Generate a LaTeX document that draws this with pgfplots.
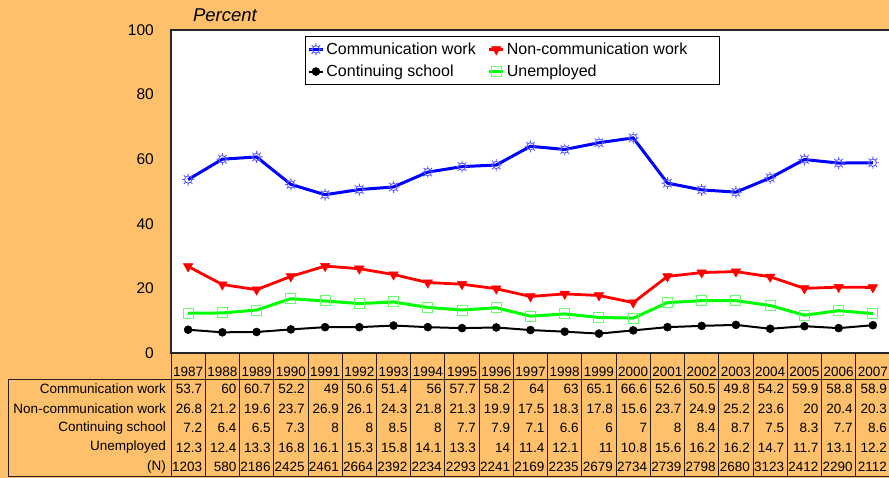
\documentclass[border=0pt]{standalone}
\usepackage{fontspec}
\setmainfont{Liberation Sans}
\usepackage{pgfplots}
\pgfplotsset{compat=1.18}
\usepackage{pgfplotstable}
\definecolor{bg}{RGB}{254,192,106}
\definecolor{sunblue}{RGB}{90,90,255}
\definecolor{lgreen}{RGB}{100,255,100}
\definecolor{grid}{RGB}{40,30,20}

\pgfdeclareplotmark{sun}{%
  \pgfpathcircle{\pgfpointorigin}{0.6\pgfplotmarksize}%
  \pgfpathmoveto{\pgfpointpolar{0}{0.6\pgfplotmarksize}}\pgfpathlineto{\pgfpointpolar{0}{\pgfplotmarksize}}%
  \pgfpathmoveto{\pgfpointpolar{45}{0.6\pgfplotmarksize}}\pgfpathlineto{\pgfpointpolar{45}{\pgfplotmarksize}}%
  \pgfpathmoveto{\pgfpointpolar{90}{0.6\pgfplotmarksize}}\pgfpathlineto{\pgfpointpolar{90}{\pgfplotmarksize}}%
  \pgfpathmoveto{\pgfpointpolar{135}{0.6\pgfplotmarksize}}\pgfpathlineto{\pgfpointpolar{135}{\pgfplotmarksize}}%
  \pgfpathmoveto{\pgfpointpolar{180}{0.6\pgfplotmarksize}}\pgfpathlineto{\pgfpointpolar{180}{\pgfplotmarksize}}%
  \pgfpathmoveto{\pgfpointpolar{225}{0.6\pgfplotmarksize}}\pgfpathlineto{\pgfpointpolar{225}{\pgfplotmarksize}}%
  \pgfpathmoveto{\pgfpointpolar{270}{0.6\pgfplotmarksize}}\pgfpathlineto{\pgfpointpolar{270}{\pgfplotmarksize}}%
  \pgfpathmoveto{\pgfpointpolar{315}{0.6\pgfplotmarksize}}\pgfpathlineto{\pgfpointpolar{315}{\pgfplotmarksize}}%
  \pgfusepathqstroke}

\pgfplotstableread{
year comm noncomm school unemp N
1987 53.7 26.8 7.2 12.3 1203
1988 60 21.2 6.4 12.4 580
1989 60.7 19.6 6.5 13.3 2186
1990 52.2 23.7 7.3 16.8 2425
1991 49 26.9 8 16.1 2461
1992 50.6 26.1 8 15.3 2664
1993 51.4 24.3 8.5 15.8 2392
1994 56 21.8 8 14.1 2234
1995 57.7 21.3 7.7 13.3 2293
1996 58.2 19.9 7.9 14 2241
1997 64 17.5 7.1 11.4 2169
1998 63 18.3 6.6 12.1 2235
1999 65.1 17.8 6 11 2679
2000 66.6 15.6 7 10.8 2734
2001 52.6 23.7 8 15.6 2739
2002 50.5 24.9 8.4 16.2 2798
2003 49.8 25.2 8.7 16.2 2680
2004 54.2 23.6 7.5 14.7 3123
2005 59.9 20 8.3 11.7 2412
2006 58.8 20.4 7.7 13.1 2290
2007 58.9 20.3 8.6 12.2 2112
}\data

\newcommand\tfont{\fontsize{13.5}{16}\selectfont}
\newcommand\cell[3]{\pgfplotstablegetelem{#1}{#2}\of\data
  \node[anchor=east,inner sep=0pt,font=\tfont] at ({171+34.238*(#1+1)-3},#3) {\pgfplotsretval};}

\begin{document}
\begin{tikzpicture}[x=1pt,y=1pt]
\useasboundingbox (0,0) rectangle (889,478);
\fill[bg] (0,0) rectangle (889,478);
\begin{axis}[
  at={(171pt,125pt)}, anchor=south west,
  scale only axis, width=719pt, height=323pt,
  xmin=-0.5, xmax=20.5, ymin=0, ymax=100,
  ytick={0,20,...,100},
  xtick={0,...,20},
  xticklabels from table={\data}{year},
  major tick length=0pt,
  axis background/.style={fill=white},
  axis line style={line width=1.8pt, black!85},
  yticklabel style={font=\fontsize{15.5}{18}\selectfont, inner sep=0pt, anchor=east, xshift=-17pt},
  xticklabel style={font=\tfont, inner sep=0pt, anchor=center, yshift=-19pt},
  /pgf/number format/assume math mode=true,
  legend columns=2,
  legend cell align=left,
  legend style={at={(0.1864,0.9814)}, anchor=north west, draw=black, line width=0.8pt,
    font=\fontsize{16}{19}\selectfont, inner ysep=4.5pt, inner xsep=2pt, row sep=5pt,
    /tikz/every even column/.append style={column sep=10pt}},
  legend image code/.code={\draw[mark repeat=2,mark phase=2] plot coordinates {(0pt,0pt)(7pt,0pt)(14pt,0pt)};},
  clip=false,
]
\addplot[color=blue, line width=3pt, mark=sun, mark size=6pt, mark options={draw=sunblue, line width=0.9pt, fill=none}]
  table[x expr=\coordindex, y=comm] {\data};
\addlegendentry{Communication work}
\addplot[color=red, line width=2.8pt, mark=triangle*, mark size=5.5pt, mark options={rotate=180, line width=0.5pt, fill=red}]
  table[x expr=\coordindex, y=noncomm] {\data};
\addlegendentry{Non-communication work\hspace*{28pt}}
\addplot[color=black, line width=2pt, mark=*, mark size=4pt, mark options={line width=0.5pt, fill=black}]
  table[x expr=\coordindex, y=school] {\data};
\addlegendentry{Continuing school}
\addplot[color=green, line width=3pt, mark=square, mark size=5pt, mark options={draw=lgreen, line width=1pt, fill=none}]
  table[x expr=\coordindex, y=unemp] {\data};
\addlegendentry{Unemployed}
\end{axis}
\node[font=\fontsize{18.5}{22}\selectfont\itshape] at (225,463) {Percent};
% table grid
\draw[grid, line width=0.9pt] (8,99) -- (889,99);
\draw[grid, line width=0.9pt] (8,1.5) -- (889,1.5);
\draw[grid, line width=0.9pt] (8.5,99) -- (8.5,1.5);
\foreach \k in {0,...,21} {\draw[grid, line width=0.9pt] ({171+34.238*\k},125) -- ({171+34.238*\k},1.5);}
% row labels
\node[anchor=east,inner sep=0pt,font=\tfont] at (166,89) {Communication work};
\node[anchor=east,inner sep=0pt,font=\tfont] at (166,69.5) {Non-communication work};
\node[anchor=east,inner sep=0pt,font=\tfont] at (166,50) {Continuing school};
\node[anchor=east,inner sep=0pt,font=\tfont] at (166,30.5) {Unemployed};
\node[anchor=east,inner sep=0pt,font=\tfont] at (166,11) {(N)};
\foreach \i in {0,...,20} {
  \cell{\i}{comm}{89}
  \cell{\i}{noncomm}{69.5}
  \cell{\i}{school}{50}
  \cell{\i}{unemp}{30.5}
  \cell{\i}{N}{11}
}
\end{tikzpicture}
\end{document}
